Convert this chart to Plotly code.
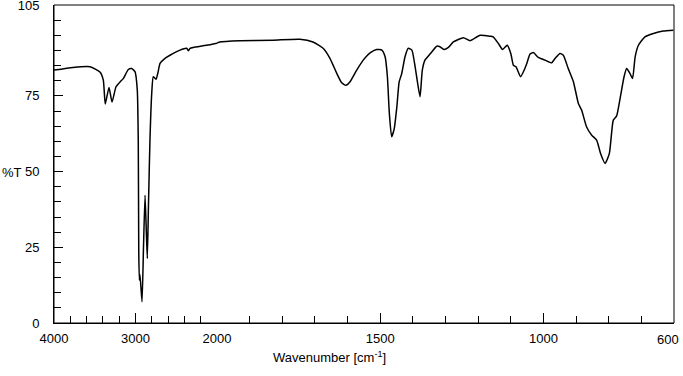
import plotly.graph_objects as go

# IR spectrum: wavenumber (cm-1) and transmittance (%T)
wavenumber = [4000, 3767, 3558, 3436, 3395, 3371, 3325, 3288, 3239, 3190, 3150, 3088, 3047, 3006,
              2978, 2966, 2960, 2953, 2945, 2920, 2902, 2883, 2867, 2855, 2840, 2822, 2801, 2782,
              2748, 2724, 2699, 2638, 2577, 2454, 2372, 2352, 2331, 2291, 2127, 2000,
              1991, 1930, 1828, 1746, 1706, 1675, 1654, 1633, 1618, 1605, 1593, 1572, 1552, 1531,
              1511, 1495, 1485, 1478, 1472, 1465, 1457, 1449, 1442, 1434, 1424, 1414, 1403, 1393,
              1386, 1378, 1371, 1363, 1353, 1342, 1327, 1317, 1305, 1291, 1276, 1245, 1225, 1194,
              1164, 1154, 1138, 1125, 1111, 1100, 1092, 1084, 1070, 1059, 1051, 1041, 1031, 1016,
              995, 975, 964, 949, 939, 924, 908, 893, 883, 868, 852, 837, 825, 811, 798, 786, 776,
              766, 753, 745, 735, 727, 719, 709, 689, 663, 633, 602]
transmittance = [83.5, 84.4, 84.6, 82.9, 80.2, 72.3, 77.8, 73.0, 78.0, 79.6, 80.7, 83.7, 84.0, 83.0,
                 76.9, 60.0, 23.5, 14.2, 16.0, 7.0, 25.0, 42.2, 30.0, 21.3, 40.0, 61.0, 75.8, 81.3,
                 80.5, 82.7, 85.7, 87.4, 88.4, 90.1, 90.7, 89.9, 90.7, 91.0, 91.7, 92.4,
                 92.8, 93.2, 93.4, 93.7, 92.8, 90.7, 87.4, 82.4, 79.3, 78.5, 79.6, 83.5, 86.8, 89.2,
                 90.3, 90.1, 87.9, 81.3, 69.2, 61.5, 64.2, 71.4, 79.6, 82.4, 87.9, 90.7, 90.1, 84.6,
                 79.6, 74.7, 83.5, 86.8, 88.1, 89.5, 91.4, 91.2, 90.3, 91.0, 92.8, 94.2, 93.2, 95.0,
                 94.7, 94.5, 92.3, 90.3, 91.7, 89.0, 85.1, 84.6, 81.3, 83.5, 85.7, 88.8, 89.3, 87.7,
                 86.8, 85.9, 87.4, 89.0, 88.4, 84.0, 79.6, 72.5, 70.3, 64.8, 62.0, 60.4, 56.0, 52.7, 56.0, 67.0, 68.3,
                 73.6, 81.3, 84.0, 82.4, 80.7, 87.9, 91.7, 94.5, 95.6, 96.4, 96.7]

x_major_hi = [4000, 3000, 2000]
x_major_lo = [1500, 1000]
x_end_label = 600
y_ticks = [0, 25, 50, 75, 105]

FONT = "Liberation Sans, Arial, sans-serif"
hi_x = [w for w in wavenumber if w >= 2000]
hi_y = [t for w, t in zip(wavenumber, transmittance) if w >= 2000]
lo_x = [w for w in wavenumber if w <= 2000]
lo_y = [t for w, t in zip(wavenumber, transmittance) if w <= 2000]

line = dict(color="black", width=1.5, shape="spline", smoothing=0.5)
fig = go.Figure()
fig.add_trace(go.Scatter(x=hi_x, y=hi_y, mode="lines", line=line, xaxis="x", yaxis="y",
                         showlegend=False, hoverinfo="x+y"))
fig.add_trace(go.Scatter(x=lo_x, y=lo_y, mode="lines", line=line, xaxis="x2", yaxis="y",
                         showlegend=False, hoverinfo="x+y"))

split = 163 / 620
common_x = dict(showgrid=False, zeroline=False, ticks="inside", ticklen=10, tickwidth=1,
                tickcolor="black", showline=True, linecolor="black", linewidth=1,
                automargin=False, ticklabeloverflow="allow", ticklabelstandoff=3,
                tickfont=dict(family=FONT, size=13, color="black"))
fig.update_layout(
    width=683, height=376,
    margin=dict(l=54, r=9, t=5, b=53, autoexpand=False),
    paper_bgcolor="white", plot_bgcolor="white",
    font=dict(family=FONT, size=13, color="black"),
    xaxis=dict(domain=[0, split], range=[4000, 2000], anchor="y",
               tickvals=x_major_hi, ticktext=[str(v) for v in x_major_hi],
               minor=dict(ticks="inside", ticklen=7, dtick=200, tick0=0, tickcolor="black"),
               **common_x),
    xaxis2=dict(domain=[split, 1], range=[2000, 600], anchor="y",
                tickvals=x_major_lo + [x_end_label], ticktext=[str(v) for v in x_major_lo] + [""],
                minor=dict(ticks="inside", ticklen=7, dtick=100, tick0=0, tickcolor="black"),
                **common_x),
    yaxis=dict(range=[0, 105], anchor="x", showgrid=False, zeroline=False,
               tickvals=y_ticks, ticktext=[str(v) for v in y_ticks],
               ticks="inside", ticklen=9, tickwidth=1, tickcolor="black",
               minor=dict(ticks="inside", ticklen=7, dtick=5, tick0=0, tickcolor="black"),
               showline=True, linecolor="black", linewidth=1,
               automargin=False, ticklabeloverflow="allow", ticklabelstandoff=11,
               tickfont=dict(family=FONT, size=13, color="black")),
    shapes=[dict(type="rect", xref="paper", yref="paper", x0=0, x1=1, y0=0, y1=1,
                 line=dict(color="black", width=1), fillcolor="rgba(0,0,0,0)", layer="above")],
    annotations=[
        dict(text=str(x_end_label), xref="x2", yref="paper", x=x_end_label, y=0,
             yshift=-16, xshift=-6, showarrow=False, xanchor="center", yanchor="middle",
             font=dict(family=FONT, size=13, color="black")),
        dict(text="Wavenumber [cm<sup>-1</sup>]", xref="paper", yref="paper",
             x=(329 - 54) / 620, y=(323 - 357) / 318, showarrow=False,
             xanchor="center", yanchor="middle", font=dict(family=FONT, size=13, color="black")),
        dict(text="%T", xref="paper", yref="paper", x=(12 - 54) / 620, y=(323 - 172) / 318,
             showarrow=False, xanchor="center", yanchor="middle",
             font=dict(family=FONT, size=13, color="black")),
    ],
)
fig.write_html("out.html", config={"displayModeBar": False},
               post_script="document.body.style.margin='0px';")
